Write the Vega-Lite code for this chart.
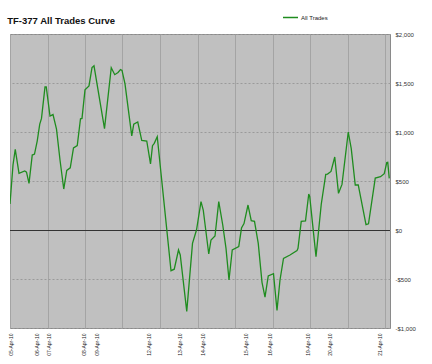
{
  "$schema": "https://vega.github.io/schema/vega-lite/v6.json",
  "width": 380,
  "height": 294,
  "autosize": {"type": "none"},
  "padding": {"left": 10, "top": 34, "right": 42, "bottom": 36},
  "background": "white",
  "title": {"text": "TF-377 All Trades Curve", "anchor": "start", "font": "Liberation Sans", "fontSize": 9.5, "fontWeight": "bold", "color": "#111", "offset": 0, "dy": 16},
  "config": {
    "view": {"fill": "#c0c0c0", "stroke": "#8a8a8a"},
    "font": "Liberation Sans"
  },
  "data": {"values": [
    {"i": 0, "v": 265}, {"i": 1.2, "v": 663}, {"i": 2.1, "v": 823}, {"i": 3.6, "v": 578},
    {"i": 5.9, "v": 602}, {"i": 6.6, "v": 590}, {"i": 7.6, "v": 476}, {"i": 8.9, "v": 765},
    {"i": 9.8, "v": 775}, {"i": 10.9, "v": 910}, {"i": 11.9, "v": 1080}, {"i": 12.6, "v": 1139},
    {"i": 14, "v": 1460}, {"i": 14.5, "v": 1460}, {"i": 16, "v": 1163}, {"i": 17.2, "v": 1178},
    {"i": 18.6, "v": 1030}, {"i": 20, "v": 714}, {"i": 21.5, "v": 418}, {"i": 22.7, "v": 608},
    {"i": 24.1, "v": 635}, {"i": 25.4, "v": 838}, {"i": 26.9, "v": 862}, {"i": 28.2, "v": 1135},
    {"i": 28.8, "v": 1139}, {"i": 30, "v": 1430}, {"i": 31.6, "v": 1470}, {"i": 32.8, "v": 1657},
    {"i": 33.6, "v": 1675}, {"i": 37.8, "v": 1035}, {"i": 40.5, "v": 1656}, {"i": 41.9, "v": 1585},
    {"i": 43.2, "v": 1607}, {"i": 44.2, "v": 1636}, {"i": 44.8, "v": 1628}, {"i": 46, "v": 1490},
    {"i": 48.7, "v": 960}, {"i": 49.5, "v": 1080}, {"i": 51.1, "v": 1102}, {"i": 52.7, "v": 915},
    {"i": 54.7, "v": 908}, {"i": 56.2, "v": 675}, {"i": 57, "v": 860}, {"i": 57.7, "v": 884},
    {"i": 58.9, "v": 952}, {"i": 64.4, "v": -415}, {"i": 65.7, "v": -400}, {"i": 67.4, "v": -204},
    {"i": 68.1, "v": -255}, {"i": 70.7, "v": -830}, {"i": 73, "v": -136}, {"i": 74.6, "v": 0},
    {"i": 76.4, "v": 289}, {"i": 77.3, "v": 204}, {"i": 79.5, "v": -245}, {"i": 80.4, "v": -102},
    {"i": 82, "v": -61}, {"i": 83.5, "v": 289}, {"i": 85.1, "v": 51}, {"i": 86.4, "v": -187},
    {"i": 87.6, "v": -510}, {"i": 88.9, "v": -204}, {"i": 91.5, "v": -170}, {"i": 92.6, "v": 20},
    {"i": 93.6, "v": 65}, {"i": 95.2, "v": 255}, {"i": 96.5, "v": 95}, {"i": 97.8, "v": 88},
    {"i": 99.3, "v": -136}, {"i": 100.8, "v": -534}, {"i": 102, "v": -685}, {"i": 103.3, "v": -469},
    {"i": 105.4, "v": -445}, {"i": 106.8, "v": -820}, {"i": 108, "v": -510}, {"i": 109.4, "v": -289},
    {"i": 112, "v": -255}, {"i": 114.8, "v": -211}, {"i": 115.2, "v": -187}, {"i": 116.5, "v": 88},
    {"i": 118.2, "v": 93}, {"i": 119.5, "v": 367}, {"i": 119.9, "v": 340}, {"i": 122.4, "v": -272},
    {"i": 124.5, "v": 263}, {"i": 126.3, "v": 568}, {"i": 127, "v": 571}, {"i": 128.4, "v": 598},
    {"i": 129.9, "v": 745}, {"i": 131.4, "v": 374}, {"i": 132.8, "v": 465}, {"i": 135.3, "v": 1000},
    {"i": 136.5, "v": 830}, {"i": 138.1, "v": 459}, {"i": 139.3, "v": 460}, {"i": 142.4, "v": 55},
    {"i": 143.4, "v": 63}, {"i": 146.1, "v": 530}, {"i": 148.2, "v": 544}, {"i": 149.7, "v": 575},
    {"i": 150.7, "v": 688}, {"i": 151.1, "v": 690}, {"i": 151.7, "v": 527}
  ]},
  "layer": [
    {
      "mark": {"type": "rule", "color": "#333333", "strokeWidth": 1, "yOffset": 0.5},
      "encoding": {"y": {"datum": 0, "type": "quantitative"}}
    },
    {
      "mark": {"type": "line", "strokeWidth": 1.3, "clip": true},
      "encoding": {
        "x": {"field": "i", "type": "quantitative",
          "scale": {"domain": [0, 152], "nice": false, "zero": false},
          "axis": {"values": [0, 15, 30, 45, 60, 75, 90, 105, 120, 135, 150], "grid": true, "gridColor": "#a4a4a4", "gridWidth": 1, "labels": false, "ticks": false, "domain": false, "title": null, "orient": "bottom"}},
        "y": {"field": "v", "type": "quantitative",
          "scale": {"domain": [-1000, 2000], "nice": false},
          "axis": {"orient": "right", "values": [-1000, -500, 0, 500, 1000, 1500, 2000], "labelExpr": "datum.value < 0 ? '-$' + format(-datum.value, ',') : '$' + format(datum.value, ',')", "grid": true, "gridColor": "#9a9a9a", "gridDash": [2, 2], "ticks": false, "tickSize": 0, "domain": false, "labelPadding": 5, "labelFontSize": 6, "labelColor": "#333", "title": null}},
        "color": {"datum": "All Trades", "type": "nominal",
          "scale": {"range": ["#1f8c1f"]},
          "legend": {"orient": "none", "legendX": 272, "legendY": -25, "title": null, "symbolType": "stroke", "symbolSize": 225, "symbolStrokeWidth": 1.5, "labelFontSize": 6, "labelColor": "#222", "labelOffset": 2}}
      }
    },
    {
      "mark": {"type": "point", "opacity": 0},
      "encoding": {
        "x": {"field": "i", "type": "quantitative",
          "axis": {"orient": "bottom", "values": [0, 10.4, 15.2, 29.2, 34.4, 55.2, 67.6, 76.8, 94, 103.6, 118.8, 127.6, 147.6],
            "labelExpr": "['05-Apr-10','06-Apr-10','07-Apr-10','08-Apr-10','09-Apr-10','12-Apr-10','13-Apr-10','14-Apr-10','15-Apr-10','16-Apr-10','19-Apr-10','20-Apr-10','21-Apr-10'][indexof([0, 10.4, 15.2, 29.2, 34.4, 55.2, 67.6, 76.8, 94, 103.6, 118.8, 127.6, 147.6], datum.value)]",
            "labelAngle": 270, "labelFontSize": 5, "labelColor": "#222", "labelPadding": 5, "labelOverlap": false, "labelFlush": false, "labelBound": false, "grid": false, "ticks": false, "tickSize": 0, "domain": false, "title": null}},
        "y": {"field": "v", "type": "quantitative"}
      }
    }
  ],
  "resolve": {"axis": {"x": "independent"}}
}
